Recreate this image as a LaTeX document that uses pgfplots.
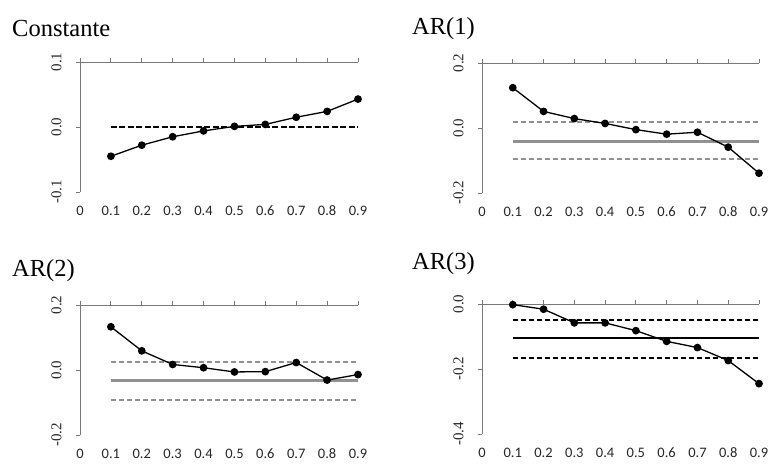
\documentclass[border=0pt]{standalone}
\usepackage{fontspec}
\setmainfont{Liberation Serif}
\newfontfamily\calibri{Carlito}
\usepackage{pgfplots}
\pgfplotsset{compat=1.18}

\definecolor{axisgray}{RGB}{120,120,120}
\definecolor{bandgray}{RGB}{145,145,145}

\newcommand\xtlfont{\calibri\fontsize{14.5}{16}\selectfont}
\newcommand\ytlfont{\fontsize{15}{17}\selectfont}
\newcommand\titlefont{\fontsize{24.5}{27}\selectfont}

\pgfplotsset{
  panel/.style={
    scale only axis, width=278pt, height=130pt,
    xmin=0, xmax=0.9,
    axis x line*=top, axis y line*=left,
    xtick={0,0.1,0.2,0.3,0.4,0.5,0.6,0.7,0.8,0.9},
    xticklabels={0,0.1,0.2,0.3,0.4,0.5,0.6,0.7,0.8,0.9},
    tick align=outside, major tick length=4pt,
    axis line style={draw=axisgray, line width=0.8pt},
    tick style={draw=axisgray, line width=0.8pt},
    typeset ticklabels with strut,
    every x tick label/.append style={font=\xtlfont, text=black!85,
      anchor=north, yshift=-143pt},
    every y tick label/.append style={font=\ytlfont, text=black!85,
      xshift=4pt, rotate=90, anchor=south},
    yticklabel shift=10pt,
    clip=false,
  },
  dataline/.style={black, line width=1.3pt, mark=*, mark size=3.2pt},
  band/.style={bandgray, line width=2pt, dash pattern=on 5pt off 3pt},
  meanline/.style={bandgray, line width=3pt},
}

\begin{document}
\begin{tikzpicture}
\useasboundingbox (0,0) rectangle (769pt,-469pt);

% titles
\node[anchor=base west, inner sep=0pt, font=\titlefont] at (12pt,-36pt) {Constante};
\node[anchor=base west, inner sep=0pt, font=\titlefont] at (412pt,-34pt) {AR(1)};
\node[anchor=base west, inner sep=0pt, font=\titlefont] at (12pt,-276pt) {AR(2)};
\node[anchor=base west, inner sep=0pt, font=\titlefont] at (412pt,-269pt) {AR(3)};

% Constante
\begin{axis}[panel, at={(80pt,-192pt)}, anchor=south west,
  ymin=-0.1, ymax=0.1, ytick={-0.1,0,0.1}, yticklabels={-0.1,0.0,0.1}]
  \addplot[dataline] coordinates {
    (0.1,-0.045) (0.2,-0.028) (0.3,-0.015) (0.4,-0.006) (0.5,0.001)
    (0.6,0.004) (0.7,0.015) (0.8,0.024) (0.9,0.043)};
  \addplot[black, line width=2.5pt, dash pattern=on 6pt off 2.5pt] coordinates {(0.1,0) (0.9,0)};
\end{axis}

% AR(1)
\begin{axis}[panel, at={(482pt,-193pt)}, anchor=south west, width=277pt,
  ymin=-0.2, ymax=0.2, ytick={-0.2,0,0.2}, yticklabels={-0.2,0.0,0.2}]
  \addplot[band] coordinates {(0.1,0.018) (0.9,0.018)};
  \addplot[band] coordinates {(0.1,-0.096) (0.9,-0.096)};
  \addplot[meanline] coordinates {(0.1,-0.041) (0.9,-0.041)};
  \addplot[dataline] coordinates {
    (0.1,0.124) (0.2,0.051) (0.3,0.029) (0.4,0.014) (0.5,-0.005)
    (0.6,-0.019) (0.7,-0.013) (0.8,-0.059) (0.9,-0.139)};
\end{axis}

% AR(2)
\begin{axis}[panel, at={(80pt,-435pt)}, anchor=south west,
  ymin=-0.2, ymax=0.2, ytick={-0.2,0,0.2}, yticklabels={-0.2,0.0,0.2}]
  \addplot[band] coordinates {(0.1,0.026) (0.9,0.026)};
  \addplot[band] coordinates {(0.1,-0.091) (0.9,-0.091)};
  \addplot[meanline] coordinates {(0.1,-0.033) (0.9,-0.033)};
  \addplot[dataline] coordinates {
    (0.1,0.133) (0.2,0.059) (0.3,0.017) (0.4,0.007) (0.5,-0.006)
    (0.6,-0.005) (0.7,0.023) (0.8,-0.031) (0.9,-0.014)};
\end{axis}

% AR(3)
\begin{axis}[panel, at={(482pt,-434pt)}, anchor=south west, width=277pt,
  ymin=-0.4, ymax=0, ytick={-0.4,-0.2,0}, yticklabels={-0.4,-0.2,0.0}]
  \addplot[black, line width=1.3pt, dash pattern=on 5pt off 3pt] coordinates {(0.1,-0.049) (0.9,-0.049)};
  \addplot[black, line width=1.3pt, dash pattern=on 5pt off 3pt] coordinates {(0.1,-0.166) (0.9,-0.166)};
  \addplot[black, line width=1.5pt] coordinates {(0.1,-0.105) (0.9,-0.105)};
  \addplot[dataline] coordinates {
    (0.1,-0.002) (0.2,-0.016) (0.3,-0.058) (0.4,-0.058) (0.5,-0.082)
    (0.6,-0.115) (0.7,-0.134) (0.8,-0.174) (0.9,-0.245)};
\end{axis}
\end{tikzpicture}
\end{document}
